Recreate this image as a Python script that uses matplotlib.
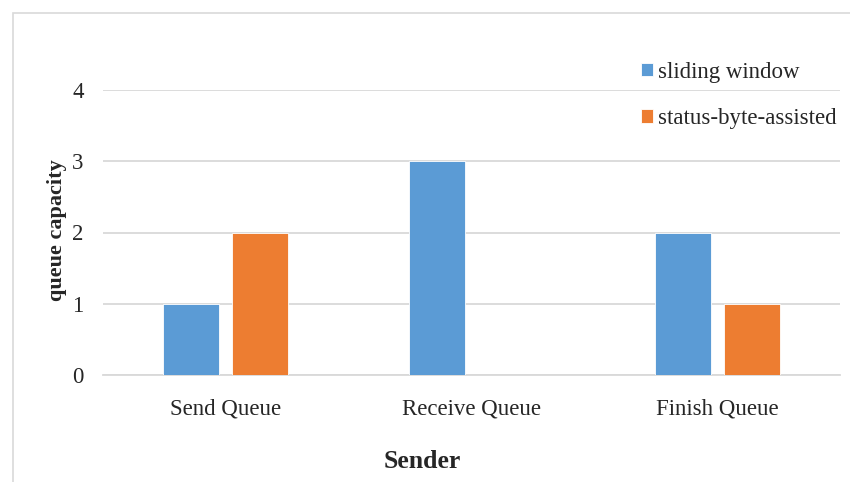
import matplotlib
matplotlib.use("Agg")
import matplotlib.pyplot as plt
import numpy as np
from matplotlib.patches import Rectangle

categories = ["Send Queue", "Receive Queue", "Finish Queue"]
sliding_window = [1, 3, 2]
status_byte_assisted = [2, 0, 1]
series_names = ["sliding window", "status-byte-assisted"]
y_ticks = [0, 1, 2, 3, 4]

BLUE = "#5B9BD5"
ORANGE = "#ED7D31"
GRID = "#D9D9D9"
TEXT = "#262626"

plt.rcParams["font.family"] = ["Liberation Serif", "DejaVu Serif"]

W, H = 850, 482
fig = plt.figure(figsize=(W / 100, H / 100), dpi=100)

# chart frame
fig.patches.append(Rectangle((13 / W, -0.05), 1.1, 1 - 13 / H + 0.05,
                             transform=fig.transFigure, fill=False,
                             edgecolor="#D9D9D9", linewidth=1.2))

ax = fig.add_axes([103 / W, 1 - 375 / H, (840 - 103) / W, (375 - 90) / H])

x = np.arange(len(categories))
width = 0.228
offset = 0.14
ax.bar(x - offset, sliding_window, width, color=BLUE, edgecolor="#ffffff",
       linewidth=0.6, zorder=3, label=series_names[0])
ax.bar(x + offset, status_byte_assisted, width, color=ORANGE, edgecolor="#ffffff",
       linewidth=0.6, zorder=3, label=series_names[1])

ax.set_xlim(-0.5, 2.5)
ax.set_ylim(0, 4)
ax.set_yticks(y_ticks)
ax.set_xticks(x)
ax.set_xticklabels(categories)
ax.yaxis.grid(True, color=GRID, linewidth=1.3, zorder=0)
ax.tick_params(axis="y", length=0, pad=14, labelsize=16.5, labelcolor=TEXT)
ax.tick_params(axis="x", length=0, pad=17, labelsize=16.5, labelcolor=TEXT)
for s in ["top", "right", "left"]:
    ax.spines[s].set_visible(False)
ax.spines["bottom"].set_color(GRID)
ax.spines["bottom"].set_linewidth(1.3)

fig.text(57 / W, 1 - 230 / H, "queue capacity", rotation=90, ha="center",
         va="center", fontsize=16, fontweight="bold", color=TEXT)
fig.text(422 / W, 1 - 462 / H, "Sender", ha="center", va="center",
         fontsize=18.5, fontweight="bold", color=TEXT)

leg = ax.legend(loc="upper left", bbox_to_anchor=(620 / W, 1 - 41 / H),
                bbox_transform=fig.transFigure, frameon=False, fontsize=16.5,
                handlelength=0.55, handleheight=0.55, handletextpad=0.22,
                labelspacing=1.1, labelcolor=TEXT)

fig.savefig("out.png", dpi=100)
